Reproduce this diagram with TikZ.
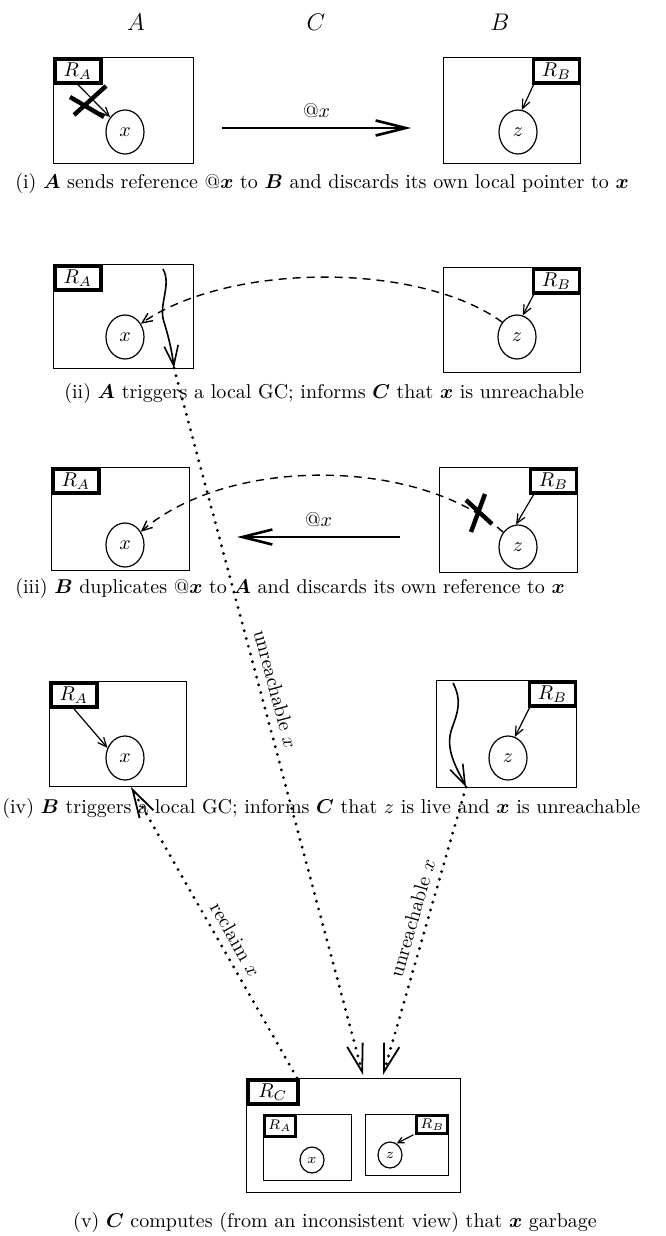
\documentclass[tikz,border=0pt]{standalone}
\usepackage{bm}
\usetikzlibrary{arrows.meta}
\usetikzlibrary{positioning}
\usetikzlibrary{shapes.geometric}
\tikzset{
    region/.style={
        rectangle, anchor=north west,
        draw=black, line width=0.6pt,
        minimum width=69pt, minimum height=52.5pt,
    },
    rootset/.style={
        rectangle, draw=black, line width=1.8pt,
        inner sep=0pt, minimum width=23pt, minimum height=12pt,
    },
    object/.style={
        ellipse, draw=black, line width=0.6pt,
        inner sep=0pt, minimum width=19pt, minimum height=22pt,
    },
    pointer/.style={line width=0.6pt, -{Straight Barb[length=4.5pt,width=4pt]}},
    message/.style={line width=1.3pt, -{Straight Barb[length=15pt,width=7.5pt]}},
    remoteref/.style={line width=0.7pt, dash pattern=on 4pt off 3pt, -{Straight Barb[length=5pt,width=4.5pt]}},
    localgc/.style={line width=0.8pt, -{Straight Barb[length=10pt,width=7pt]}},
    control/.style={
        line width=1.6pt, line cap=round, dash pattern=on 0pt off 4pt,
        -{Straight Barb[length=14pt,width=8pt,line width=0.9pt]},
    },
    crossout/.style={line width=2.2pt},
    stage/.style={anchor=west, inner sep=0pt},
}

\begin{document}
\begin{tikzpicture}[x=0.5pt, y=-0.5pt]
        \useasboundingbox (0,0) rectangle (665,1236);

        \node (labA) at(136,22) {\large $A$};
        \node (labC) at(316,22) {\large $C$};
        \node (labB) at(500,22) {\large $B$};

        \node (A1) at(53,57) [region, minimum width=70pt, minimum height=53pt] {};
        \node (RA1) at(A1.north west) [rootset, anchor=north west] {$R_A$};
        \node (x1) at(125,132) [object] {$x$};
        \node (B1) at(443,57) [region, minimum width=68.5pt, minimum height=53pt] {};
        \node (RB1) at(B1.north east) [rootset, anchor=north east] {$R_B$};
        \node (z1) at(518,132) [object] {$z$};
        \draw[pointer] (RA1.south) -- (x1.135);
        \draw[crossout] (74,115) -- (106,86) (70,97) -- (104,117);
        \draw[pointer] ([xshift=1pt]RB1.south west) -- (z1.80);
        \coordinate (m1s) at(222,128);
        \coordinate (m1e) at(411,128);
        \draw[message] (m1s) -- node (at1) [above=1pt] {@$x$} (m1e);
        \node (cap1) at(15,183) [stage] {(i) $\bm{A}$ sends reference @$\bm{x}$ to $\bm{B}$ and discards its own local pointer to $\bm{x}$};

        \node (A2) at(53,264) [region, minimum width=70pt, minimum height=52pt] {};
        \node (RA2) at(A2.north west) [rootset, anchor=north west] {$R_A$};
        \node (x2) at(125,337) [object] {$x$};
        \node (B2) at(443,267) [region, minimum width=68.5pt, minimum height=52.5pt] {};
        \node (RB2) at(B2.north east) [rootset, anchor=north east] {$R_B$};
        \node (z2) at(517,337) [object] {$z$};
        \draw[pointer] ([xshift=1pt]RB2.south west) -- (z2.75);
        \draw[remoteref] (z2.135) .. controls (420,262) and (230,262) .. (x2.40);
        \coordinate (gc2s) at(163,269);
        \coordinate (gc2e) at(174,368);
        \draw[localgc] (gc2s) .. controls (172,285) and (158,305) .. (164,322) .. controls (169,338) and (172,352) .. (gc2e);
        \node (cap2) at(64,393) [stage] {(ii) $\bm{A}$ triggers a local GC; informs $\bm{C}$ that $\bm{x}$ is unreachable};

        \node (A3) at(51,467) [region, minimum height=51.5pt] {};
        \node (RA3) at(A3.north west) [rootset, anchor=north west] {$R_A$};
        \node (x3) at(125,545) [object] {$x$};
        \node (B3) at(439,467) [region] {};
        \node (RB3) at(B3.north east) [rootset, anchor=north east] {$R_B$};
        \node (z3) at(518,547) [object] {$z$};
        \draw[pointer] ([xshift=2.5pt]RB3.south west) -- (z3.95);
        \draw[remoteref] (z3.135) .. controls (420,458) and (230,455) .. (x3.40);
        \draw[crossout] (471,532) -- (485,494) (466,500) -- (492,524);
        \coordinate (m3s) at(400,537);
        \coordinate (m3e) at(237,537);
        \draw[message] (m3s) -- node (at3) [above=1pt] {@$x$} (m3e);
        \node (cap3) at(15,588) [stage] {(iii) $\bm{B}$ duplicates @$\bm{x}$ to $\bm{A}$ and discards its own reference to $\bm{x}$};

        \node (A4) at(49,681) [region, minimum width=68.5pt] {};
        \node (RA4) at(A4.north west) [rootset, anchor=north west] {$R_A$};
        \node (x4) at(125,758) [object] {$x$};
        \node (B4) at(436,680) [region, minimum width=70pt, minimum height=53.5pt] {};
        \node (RB4) at(B4.north east) [rootset, anchor=north east] {$R_B$};
        \node (z4) at(508,758) [object] {$z$};
        \draw[pointer] (RA4.south) -- (x4.150);
        \draw[pointer] ([xshift=1pt]RB4.south west) -- (z4.72);
        \coordinate (gc4s) at(453,683);
        \coordinate (gc4e) at(466,787);
        \draw[localgc] (gc4s) .. controls (462,700) and (458,712) .. (452,728) .. controls (444,750) and (458,770) .. (gc4e);
        \node (cap4) at(2,808) [stage] {(iv) $\bm{B}$ triggers a local GC; informs $\bm{C}$ that $z$ is live and $\bm{x}$ is unreachable};

        \node (C5) at(246,1078) [region, minimum width=107pt, minimum height=57pt] {};
        \node (RC5) at(C5.north west) [rootset, anchor=north west, minimum width=25pt] {$R_C$};
        \node (A5) at(263,1114) [region, minimum width=44pt, minimum height=33pt] {};
        \node (RA5) at(A5.north west) [
            rootset, anchor=north west, line width=1.4pt,
            minimum width=15.5pt, minimum height=10.5pt, font=\scriptsize,
        ] {$R_A$};
        \node (x5) at(312,1160) [object, minimum width=12pt, minimum height=13pt, font=\scriptsize] {$x$};
        \node (B5) at(365,1114) [region, minimum width=41.5pt, minimum height=30.5pt] {};
        \node (RB5) at(B5.north east) [
            rootset, anchor=north east, line width=1.4pt,
            minimum width=15.5pt, minimum height=9pt, font=\scriptsize,
        ] {$R_B$};
        \node (z5) at(390,1155) [object, minimum width=12pt, minimum height=13pt, font=\scriptsize] {$z$};
        \draw[pointer, -{Straight Barb[length=3pt,width=3pt]}] ([xshift=-1pt]RB5.south west) -- (z5.60);
        \node (cap5) at(335,1222) {(v) $\bm{C}$ computes (from an inconsistent view) that $\bm{x}$ garbage};

        \coordinate (in1) at(363,1075);
        \coordinate (in2) at(383,1075);
        \coordinate (out1) at(297,1078);
        \coordinate (rc) at(131,787);
        \draw[control] (gc2e) -- node (lab1) [pos=0.46, above, sloped] {unreachable $x$} (in1);
        \draw[control] (gc4e) -- node (lab2) [pos=0.47, above, sloped] {unreachable $x$} (in2);
        \draw[control] (out1) -- node (lab3) [pos=0.45, above, sloped] {reclaim $x$} (rc);
    \end{tikzpicture}
\end{document}
